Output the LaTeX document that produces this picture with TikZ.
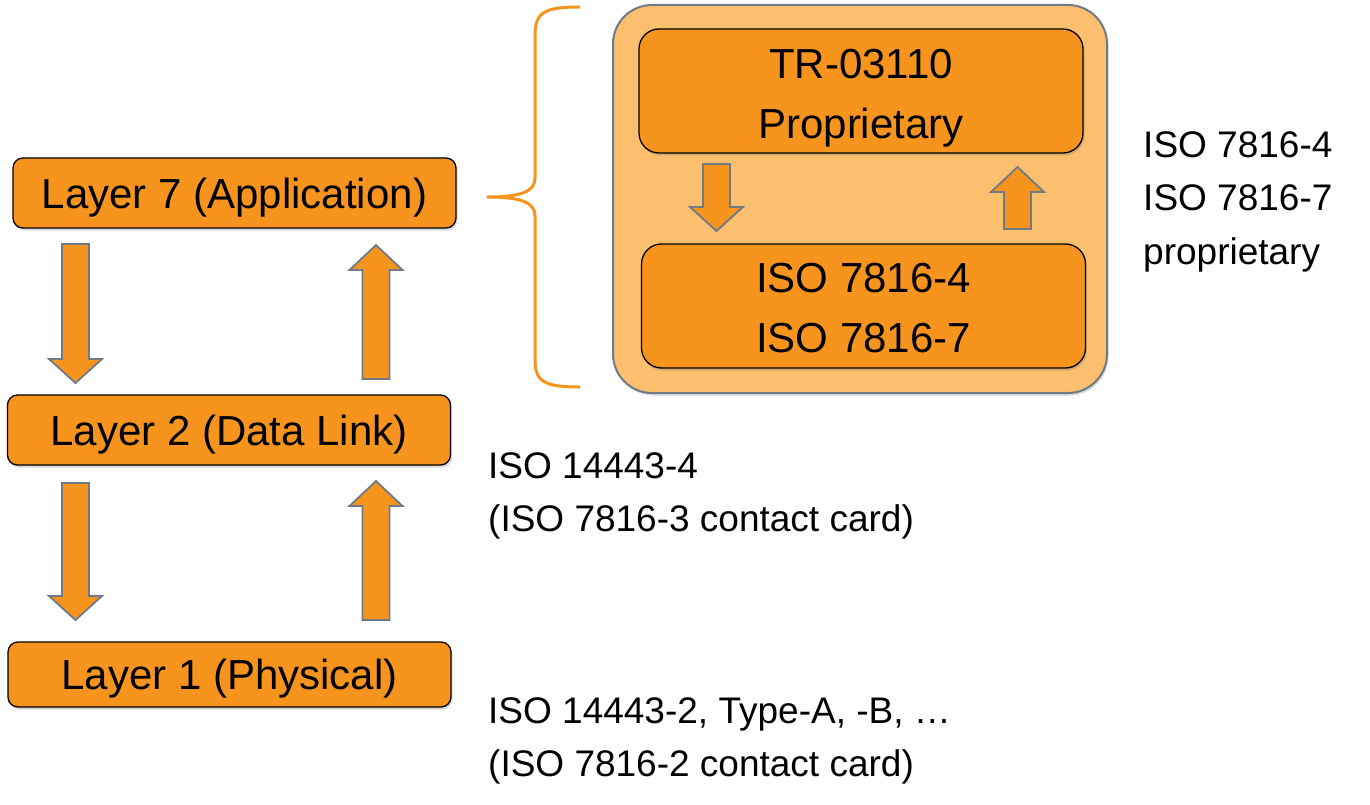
\documentclass[tikz,border=0pt]{standalone}
\usepackage{fontspec}
\setmainfont{Liberation Sans}
\usetikzlibrary{shadows}
\definecolor{boxorange}{RGB}{247,148,29}
\definecolor{paleorange}{RGB}{251,191,110}
\definecolor{edgegray}{RGB}{112,122,135}
\newcommand{\blkdown}[3]{\filldraw[blockarrow] (#1-13.5,#2) -- (#1+13.5,#2) -- (#1+13.5,#3-24) -- (#1+26.5,#3-24) -- (#1,#3) -- (#1-26.5,#3-24) -- (#1-13.5,#3-24) -- cycle;}
\newcommand{\blkup}[3]{\filldraw[blockarrow] (#1-13.5,#3) -- (#1+13.5,#3) -- (#1+13.5,#2+25) -- (#1+26.5,#2+25) -- (#1,#2) -- (#1-26.5,#2+25) -- (#1-13.5,#2+25) -- cycle;}

\begin{document}
\begin{tikzpicture}[x=1pt, y=-1pt,
  softshadow/.style={drop shadow={shadow xshift=1.5pt, shadow yshift=-2.5pt, opacity=.25, fill=black!60}},
  layerbox/.style={draw=black, line width=1.3pt, fill=boxorange, rounded corners=10pt, minimum width=443pt, minimum height=70pt, inner sep=0pt, text height=30pt, text depth=0pt, font=\fontsize{42}{50}\selectfont, softshadow},
  innerbox/.style={layerbox, rounded corners=20pt, minimum width=444pt, minimum height=124pt},
  boxtext/.style={align=center, inner sep=0pt, font=\fontsize{42}{60}\selectfont},
  blockarrow/.style={fill=boxorange, draw=edgegray, line width=1.8pt, line join=miter},
  note/.style={anchor=base west, inner sep=0pt, font=\fontsize{37}{44}\selectfont}]
\useasboundingbox (0,0) rectangle (1370,805);

\node[draw=edgegray, line width=2pt, fill=paleorange, rounded corners=39pt, minimum width=494pt, minimum height=388pt, softshadow] (stack) at (860,199) {};
\node[innerbox] (upper) at (861,91) {};
\node[boxtext] (uppertext) at (861,98) {TR-03110\\Proprietary};
\node[innerbox] (lower) at (863.5,306) {};
\node[boxtext] (lowertext) at (863.5,308.5) {ISO 7816-4\\ISO 7816-7};
\blkdown{716.5}{164}{231}
\blkup{1017.5}{167}{229}

\draw[boxorange, line width=3pt] (580,7) .. controls (545,7) and (535,12) .. (535,35) -- (535,178) .. controls (535,192) and (520,197) .. (487,197) .. controls (520,197) and (535,202) .. (535,216) -- (535,360) .. controls (535,382) and (545,387) .. (580,387);

\node[layerbox] (l7) at (234.5,193) {Layer 7 (Application)};
\node[layerbox] (l2) at (229,430) {Layer 2 (Data Link)};
\node[layerbox, minimum height=65pt] (l1) at (229.5,674.5) {Layer 1 (Physical)};

\blkdown{75.5}{244}{383}
\blkup{376}{245}{379}
\blkdown{75.5}{483}{620}
\blkup{376}{481}{620}

\node[note] (r1) at (1143,158) {ISO 7816-4};
\node[note] (r2) at (1143,211) {ISO 7816-7};
\node[note] (r3) at (1143,264) {proprietary};
\node[note] (m1) at (488,478) {ISO 14443-4};
\node[note] (m2) at (488,531) {(ISO 7816-3 contact card)};
\node[note] (b1) at (488,723) {ISO 14443-2, Type-A, -B, …};
\node[note] (b2) at (488,776) {(ISO 7816-2 contact card)};
\end{tikzpicture}
\end{document}
